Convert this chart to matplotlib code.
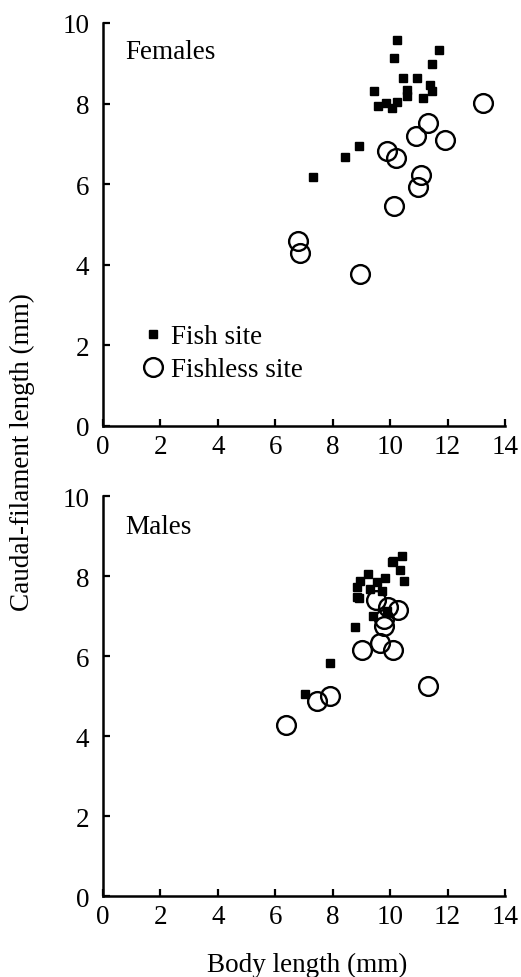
import matplotlib
matplotlib.use("Agg")
import matplotlib.pyplot as plt

plt.rcParams['font.family'] = ['Liberation Serif', 'DejaVu Serif']

# Females
fem_fish_x = [10.23, 11.71, 10.15, 11.46, 10.46, 10.92, 11.39, 11.47, 9.44, 10.6, 10.6,
              11.16, 9.59, 9.86, 10.06, 10.23, 8.9, 8.43, 7.33]
fem_fish_y = [9.57, 9.34, 9.14, 8.97, 8.64, 8.64, 8.47, 8.31, 8.31, 8.33, 8.2,
              8.14, 7.94, 8.02, 7.88, 8.03, 6.95, 6.67, 6.17]
fem_fishless_x = [13.23, 11.31, 10.89, 11.92, 9.9, 10.21, 11.07, 10.98, 10.13, 6.78, 6.86, 8.95]
fem_fishless_y = [8.02, 7.53, 7.2, 7.09, 6.82, 6.64, 6.24, 5.93, 5.45, 4.58, 4.28, 3.78]

# Males
male_fish_x = [10.41, 10.06, 10.35, 10.49, 9.24, 8.95, 9.83, 9.54, 8.86, 8.9, 9.3, 9.71,
               9.42, 9.88, 8.78, 7.91, 7.04, 8.84, 10.1]
male_fish_y = [8.49, 8.36, 8.16, 7.88, 8.05, 7.88, 7.94, 7.84, 7.72, 7.44, 7.68, 7.63,
               6.99, 7.13, 6.72, 5.83, 5.05, 7.47, 8.38]
male_fishless_x = [9.51, 9.94, 10.27, 9.77, 9.77, 9.01, 9.63, 10.09, 11.33, 7.91, 7.45, 6.36]
male_fishless_y = [7.4, 7.22, 7.15, 6.93, 6.74, 6.16, 6.33, 6.16, 5.26, 4.99, 4.88, 4.28]

xticks = [0, 2, 4, 6, 8, 10, 12, 14]
yticks = [0, 2, 4, 6, 8, 10]

fig = plt.figure(figsize=(5.21, 9.78), dpi=100)
ax1 = fig.add_axes([0.1977, 0.5634, 0.7716, 0.4121])
ax2 = fig.add_axes([0.1977, 0.0828, 0.7716, 0.409])

FS = 19.5


def style(ax, title, ty):
    ax.set_xlim(0, 14)
    ax.set_ylim(0, 10)
    ax.set_xticks(xticks)
    ax.set_yticks(yticks)
    for s in ['top', 'right']:
        ax.spines[s].set_visible(False)
    for s in ['left', 'bottom']:
        ax.spines[s].set_linewidth(1.8)
    ax.tick_params(direction='in', length=5, width=1.6, labelsize=FS)
    ax.tick_params(axis='x', pad=6)
    ax.tick_params(axis='y', pad=10)
    ax.text(0.055, ty, title, transform=ax.transAxes, fontsize=FS, va='center')


def draw(ax, fx, fy, nx, ny):
    a = ax.plot(fx, fy, 's', color='black', markersize=5.5, linestyle='none', clip_on=False)
    b = ax.plot(nx, ny, 'o', markerfacecolor='none', markeredgecolor='black',
                markersize=13.5, markeredgewidth=1.7, linestyle='none', clip_on=False)
    return a[0], b[0]


h1, h2 = draw(ax1, fem_fish_x, fem_fish_y, fem_fishless_x, fem_fishless_y)
draw(ax2, male_fish_x, male_fish_y, male_fishless_x, male_fishless_y)
style(ax1, 'Females', 0.93)
style(ax2, 'Males', 0.925)

ax1.legend([h1, h2], ['Fish site', 'Fishless site'], loc='upper left',
           bbox_to_anchor=(0.091, 0.253), frameon=False, fontsize=FS,
           handlelength=1.0, handletextpad=0.15, labelspacing=0.31, borderpad=0,
           borderaxespad=0)

fig.text(0.589, 0.0133, 'Body length (mm)', ha='center', va='center', fontsize=FS)
fig.text(0.043, 0.538, 'Caudal-filament length (mm)', ha='center', va='center',
         rotation=90, fontsize=FS)

fig.savefig('out.png', dpi=100)
